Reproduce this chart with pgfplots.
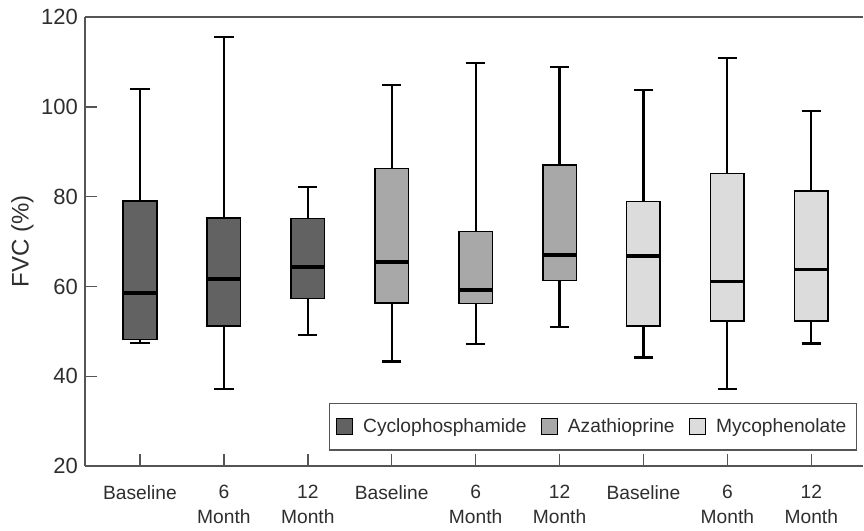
\documentclass[border=0pt]{standalone}
\usepackage{fontspec}
\setmainfont{Liberation Sans}
\usepackage{pgfplots}
\pgfplotsset{compat=1.18}
\usepgfplotslibrary{statistics}
\definecolor{cyc}{HTML}{626262}
\definecolor{aza}{HTML}{A8A8A8}
\definecolor{myc}{HTML}{DCDCDC}
\definecolor{frame}{HTML}{555555}
\definecolor{txt}{HTML}{2E2E2E}
\pgfplotsset{
  fvcbox/.style n args={6}{
    boxplot prepared={draw position=#1, lower whisker=#2, lower quartile=#3,
      median=#4, upper quartile=#5, upper whisker=#6,
      box extend=0.4, whisker extend=0.23},
    draw=black, forget plot},
  square legend/.style={legend image code/.code={
      \draw[##1, draw=black, line width=0.7pt] (0pt,-4pt) rectangle (8pt,4pt);}},
}

\begin{document}
\begin{tikzpicture}
\begin{axis}[
  scale only axis, width=389pt, height=224.5pt,
  xmin=-0.655, xmax=8.62, ymin=20, ymax=120,
  axis lines*=left, axis line style={-, frame, line width=0.7pt},
  tick align=inside, xtick pos=left, ytick pos=left,
  major tick length=6pt, tick style={frame, line width=0.7pt},
  ytick={20,40,...,120},
  xtick={0,...,8},
  xticklabels={Baseline,6\\Month,12\\Month,Baseline,6\\Month,12\\Month,Baseline,6\\Month,12\\Month},
  xticklabel style={align=center, font=\fontsize{9.6}{12.5}\selectfont, text=txt, yshift=-6pt},
  yticklabel style={font=\fontsize{11}{12}\selectfont, text=txt},
  /pgf/number format/assume math mode=true,
  ylabel={FVC (\%)},
  ylabel shift=-3pt,
  ylabel style={font=\fontsize{12}{13}\selectfont, text=txt},
  boxplot/draw direction=y,
  boxplot/every box/.style={line width=0.8pt},
  boxplot/every whisker/.style={line width=1.1pt},
  boxplot/every median/.style={line width=1.9pt},
  legend columns=3,
  legend style={at={(rel axis cs:0.992,0.034)}, anchor=south east,
    draw=frame, line width=0.7pt, inner xsep=3pt, inner ysep=5.5pt,
    font=\fontsize{9.6}{11}\selectfont, text=txt,
    /tikz/every odd column/.append style={column sep=3pt},
    /tikz/every even column/.append style={column sep=5pt}},
  after end axis/.code={\draw[frame, line width=0.7pt] (rel axis cs:0,1) -- (rel axis cs:1,1);},
]
\addlegendimage{square legend, fill=cyc}
\addlegendimage{square legend, fill=aza}
\addlegendimage{square legend, fill=myc}
\legend{Cyclophosphamide, Azathioprine, Mycophenolate}

% Cyclophosphamide
\addplot[fvcbox={0}{47.5}{48.2}{58.5}{79.0}{104.0}, fill=cyc] coordinates {};
\addplot[fvcbox={1}{37.2}{51.2}{61.7}{75.3}{115.6}, fill=cyc] coordinates {};
\addplot[fvcbox={2}{49.2}{57.3}{64.4}{75.1}{82.2}, fill=cyc] coordinates {};
% Azathioprine
\addplot[fvcbox={3}{43.3}{56.3}{65.5}{86.3}{104.8}, fill=aza] coordinates {};
\addplot[fvcbox={4}{47.2}{56.2}{59.3}{72.2}{109.8}, fill=aza] coordinates {};
\addplot[fvcbox={5}{51.0}{61.3}{67.1}{87.1}{108.8}, fill=aza] coordinates {};
% Mycophenolate
\addplot[fvcbox={6}{44.2}{51.2}{66.8}{78.9}{103.8}, fill=myc] coordinates {};
\addplot[fvcbox={7}{37.2}{52.3}{61.1}{85.2}{110.9}, fill=myc] coordinates {};
\addplot[fvcbox={8}{47.3}{52.3}{63.8}{81.2}{99.1}, fill=myc] coordinates {};
\end{axis}
\path (current axis.south west) ++(-42.5pt,-29.5pt) coordinate (bbsw);
\path (current axis.north east) ++(0pt,8.5pt) coordinate (bbne);
\useasboundingbox (bbsw) rectangle (bbne);
\end{tikzpicture}
\end{document}
